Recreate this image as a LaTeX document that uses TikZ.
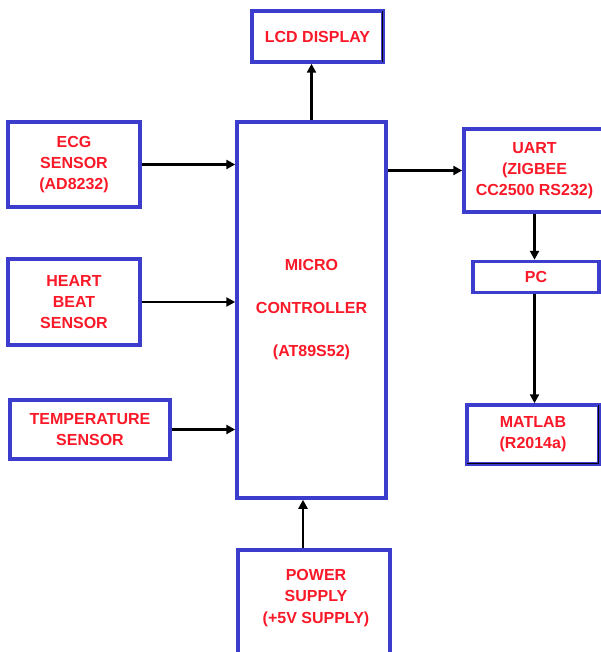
\documentclass[tikz,border=0pt]{standalone}
\usepackage{fontspec}
\setmainfont{Liberation Sans}
\usetikzlibrary{arrows.meta,positioning}
\definecolor{boxblue}{RGB}{60,60,205}
\definecolor{txtred}{RGB}{250,25,40}
\begin{document}
\begin{tikzpicture}[x=1pt,y=-1pt,
  blk/.style={draw=boxblue,line width=3.5pt,fill=white,text=txtred,align=center,inner sep=2pt,
    font=\fontsize{16}{21}\selectfont\bfseries},
  lbl/.style={text=txtred,align=center,inner sep=0pt,font=\fontsize{16}{21.5}\selectfont\bfseries},
  arr/.style={line width=2.6pt,-{Triangle[length=9pt,width=9pt]}},
  shd/.style={line width=1.3pt,black}]
\useasboundingbox (0,0) rectangle (601,652);
% Sensors
\draw (74,164.5) node[blk,minimum width=132pt,minimum height=85pt](ecg){ECG\\SENSOR\\(AD8232)};
\draw (74,302) node[blk,minimum width=132pt,minimum height=86pt](heart){HEART\\BEAT\\SENSOR};
\draw (90,429.5) node[blk,minimum width=160pt,minimum height=59pt](temp){TEMPERATURE\\SENSOR};
% Micro controller
\draw (311.5,310) node[blk,minimum width=149pt,minimum height=376pt](mc){MICRO\\[22pt]CONTROLLER\\[22pt](AT89S52)};
\draw (317.5,36.5) node[blk,minimum width=131pt,minimum height=51pt](lcd){LCD DISPLAY};
% Power supply
\draw (314,611) node[blk,minimum width=152pt,minimum height=122pt](power){};
\draw (316,598) node[lbl](ptxt){POWER\\SUPPLY\\(+5V SUPPLY)};
% UART, PC and Matlab
\draw (534.5,170.5) node[blk,minimum width=141pt,minimum height=83pt](uart){UART\\(ZIGBEE\\CC2500 RS232)};
\draw (536,277) node[blk,minimum width=126pt,minimum height=31pt](pc){PC};
\draw (533,434.5) node[blk,minimum width=132pt,minimum height=59pt](matlab){MATLAB\\(R2014a)};
% inner dark edges
\draw[shd] ([xshift=-2.6pt,yshift=-2pt]lcd.north east) -- ([xshift=-2.6pt,yshift=2pt]lcd.south east);
\draw[shd] ([xshift=-2.6pt,yshift=-2pt]matlab.north east) -- ([xshift=-2.6pt,yshift=2.6pt]matlab.south east)
  -- ([xshift=2pt,yshift=2.6pt]matlab.south west);
% Connections
\draw[arr] (ecg.east) -- (ecg.east -| mc.west);
\draw[arr] (heart.east) -- (heart.east -| mc.west);
\draw[arr] (temp.east) -- (temp.east -| mc.west);
\draw[arr] (mc.north) -- (mc.north |- lcd.south);
\draw[arr] (uart.west -| mc.east) -- (uart.west);
\draw[arr] (uart.south) -- (uart.south |- pc.north);
\coordinate (pcout) at (pc.south -| uart.south);
\draw[arr] (pcout) -- (pcout |- matlab.north);
\coordinate (pin) at ([xshift=-11pt]power.north);
\draw[arr] (pin) -- (pin |- mc.south);
\end{tikzpicture}
\end{document}
